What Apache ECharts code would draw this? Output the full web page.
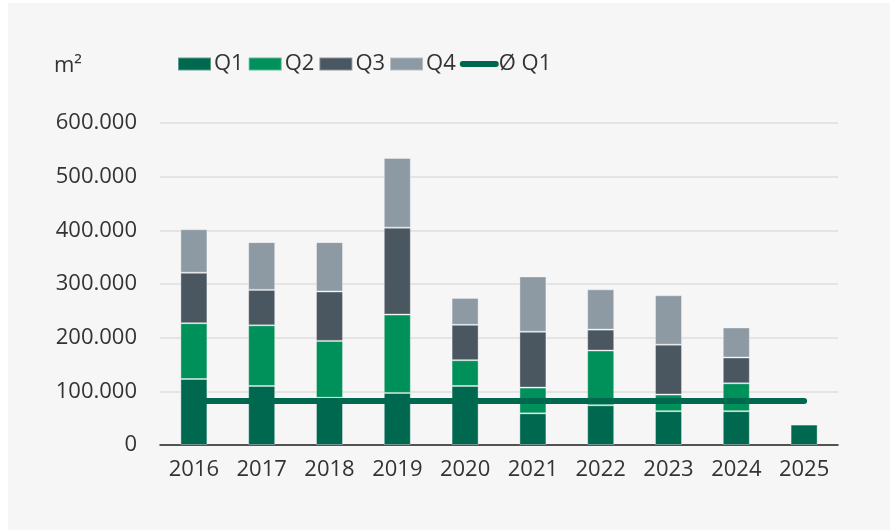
<!DOCTYPE html>
<html>
<head>
<meta charset="utf-8">
<script src="https://cdn.jsdelivr.net/npm/echarts@6/dist/echarts.min.js"></script>
<style>
  html, body { margin: 0; padding: 0; background: #fff; }
  #mainChart { width: 890px; height: 530px; }
</style>
</head>
<body>
<div id="mainChart"></div>
<script>
// values in m²
const years = ['2016', '2017', '2018', '2019', '2020', '2021', '2022', '2023', '2024', '2025']
const q1 = [123000, 110000, 88000, 97000, 110000, 59000, 74000, 63000, 63000, 38000]
const q2 = [104000, 113000, 106000, 146000, 48000, 48000, 102000, 31000, 52000, null]
const q3 = [94000, 66000, 92000, 162000, 66000, 104000, 39000, 93000, 48000, null]
const q4 = [81000, 89000, 92000, 130000, 50000, 103000, 75000, 92000, 56000, null]
const avgQ1 = [82000, 82000, 82000, 82000, 82000, 82000, 82000, 82000, 82000, 82000]
const yTicks = { min: 0, max: 600000, interval: 100000 }

const fontFamily = '"Open Sans", "Noto Sans", sans-serif'
const textColor = '#333'
const colors = {
  q1: '#00684f',
  q2: '#00905a',
  q3: '#4a5660',
  q4: '#8d9aa4'
}

const chart = echarts.init(document.getElementById('mainChart'))

const fmt = (v) => String(v).replace(/\B(?=(\d{3})+(?!\d))/g, '.')

const barSeries = (name, data, color) => ({
  name: name,
  type: 'bar',
  stack: 'total',
  data: data,
  barWidth: 27,
  itemStyle: {
    color: color,
    borderColor: 'rgba(255,255,255,0.35)',
    borderWidth: 1
  }
})

const option = {
  animation: false,
  backgroundColor: '#fff',
  textStyle: { fontFamily: fontFamily, color: textColor },
  graphic: [{
    type: 'rect',
    z: -10,
    shape: { x: 8, y: 3, width: 882, height: 527 },
    style: { fill: '#f6f6f6' },
    silent: true
  }],
  title: {
    text: 'm²',
    left: 49,
    top: 50,
    textStyle: { fontFamily: fontFamily, fontSize: 22, fontWeight: 'normal', color: textColor }
  },
  legend: {
    top: 48,
    left: 172,
    itemWidth: 33,
    itemHeight: 13,
    itemGap: 4,
    textStyle: { fontFamily: fontFamily, fontSize: 22, color: textColor, padding: [0, 0, 0, -2] },
    data: [
      { name: 'Q1', icon: 'rect' },
      { name: 'Q2', icon: 'rect' },
      { name: 'Q3', icon: 'rect' },
      { name: 'Q4', icon: 'rect' },
      { name: 'Ø Q1', itemStyle: { opacity: 0 }, lineStyle: { width: 6, cap: 'round' } }
    ]
  },
  grid: {
    left: 160,
    right: 52,
    top: 123,
    bottom: 85
  },
  xAxis: {
    type: 'category',
    data: years,
    axisTick: { show: false },
    axisLine: { lineStyle: { color: '#222', width: 1.5 } },
    axisLabel: { fontFamily: fontFamily, fontSize: 22, color: textColor, margin: 14 }
  },
  yAxis: {
    type: 'value',
    min: yTicks.min,
    max: yTicks.max,
    interval: yTicks.interval,
    axisLine: { show: false },
    axisTick: { show: false },
    splitLine: { lineStyle: { color: '#dedede', width: 1.5 } },
    axisLabel: {
      fontFamily: fontFamily,
      fontSize: 22,
      color: textColor,
      margin: 23,
      formatter: fmt
    }
  },
  series: [
    barSeries('Q1', q1, colors.q1),
    barSeries('Q2', q2, colors.q2),
    barSeries('Q3', q3, colors.q3),
    barSeries('Q4', q4, colors.q4),
    {
      name: 'Ø Q1',
      type: 'line',
      data: avgQ1,
      symbol: 'none',
      z: 5,
      lineStyle: { color: colors.q1, width: 6, cap: 'round' },
      itemStyle: { color: colors.q1 }
    }
  ]
}

chart.setOption(option)
</script>
</body>
</html>
